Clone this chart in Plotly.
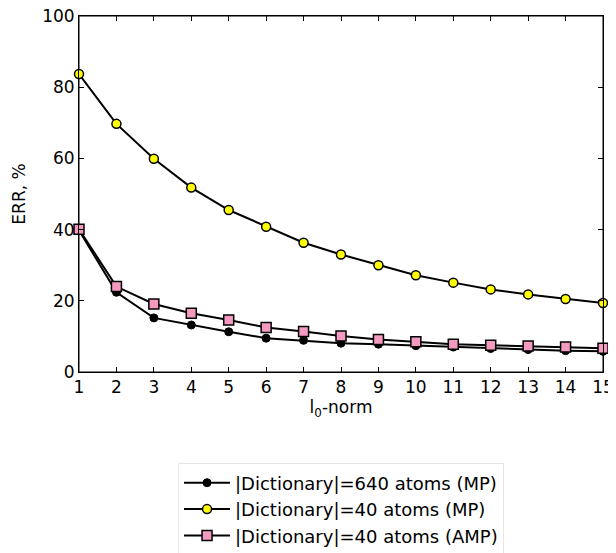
import plotly.graph_objects as go

l0_norm = list(range(1, 16))
err_640_mp = [39.8, 22.4, 15.2, 13.2, 11.3, 9.5, 8.9, 8.1, 7.8, 7.4, 7.0, 6.6, 6.3, 6.0, 5.8]
err_40_mp = [83.7, 69.7, 59.9, 51.8, 45.5, 40.8, 36.3, 33.0, 30.0, 27.2, 25.1, 23.2, 21.8, 20.5, 19.4]
err_40_amp = [40.1, 24.0, 19.1, 16.5, 14.6, 12.5, 11.4, 10.1, 9.1, 8.5, 7.8, 7.5, 7.3, 7.0, 6.7]
names = ["|Dictionary|=640 atoms (MP)", "|Dictionary|=40 atoms (MP)", "|Dictionary|=40 atoms (AMP)"]

FONT = "DejaVu Sans"

fig = go.Figure()
fig.add_trace(go.Scatter(x=l0_norm, y=err_640_mp, name=names[0], mode="lines+markers",
                         line=dict(color="black", width=2),
                         marker=dict(symbol="circle", size=8, color="black", line=dict(color="black", width=1)),
                         cliponaxis=False))
fig.add_trace(go.Scatter(x=l0_norm, y=err_40_mp, name=names[1], mode="lines+markers",
                         line=dict(color="black", width=2),
                         marker=dict(symbol="circle", size=9, color="#ffff00", line=dict(color="black", width=1.5)),
                         cliponaxis=False))
fig.add_trace(go.Scatter(x=l0_norm, y=err_40_amp, name=names[2], mode="lines+markers",
                         line=dict(color="black", width=2),
                         marker=dict(symbol="square", size=10, color="#f49ac1", line=dict(color="black", width=1.5)),
                         cliponaxis=False))

axis_common = dict(showgrid=False, zeroline=False, showline=True, linecolor="black", linewidth=1,
                   ticks="inside", ticklen=5, tickcolor="black", mirror="ticks", automargin=False,
                   ticklabeloverflow="allow",
                   tickfont=dict(family=FONT, size=17, color="black"))
fig.update_xaxes(range=[1, 15], tickmode="linear", tick0=1, dtick=1,
                 title=dict(text="l<sub>0</sub>-norm", font=dict(family=FONT, size=17, color="black"), standoff=0),
                 **axis_common)
fig.update_yaxes(range=[0, 100], tickmode="linear", tick0=0, dtick=20,
                 title=dict(text="ERR, %", font=dict(family=FONT, size=17, color="black"), standoff=12),
                 **axis_common)

fig.add_shape(type="rect", xref="paper", yref="paper", x0=0, y0=0, x1=1, y1=1,
              line=dict(color="black", width=1), layer="below")

fig.update_layout(
    width=608, height=545,
    margin=dict(l=71, r=13, t=8, b=181, autoexpand=False),
    paper_bgcolor="white", plot_bgcolor="white",
    showlegend=True,
    legend=dict(x=0.189, y=-0.257, xanchor="left", yanchor="top",
                bordercolor="#e6e6e6", borderwidth=1, bgcolor="white",
                font=dict(family=FONT, size=18, color="black"),
                tracegroupgap=0, itemwidth=46),
)

fig.write_html("out.html")
